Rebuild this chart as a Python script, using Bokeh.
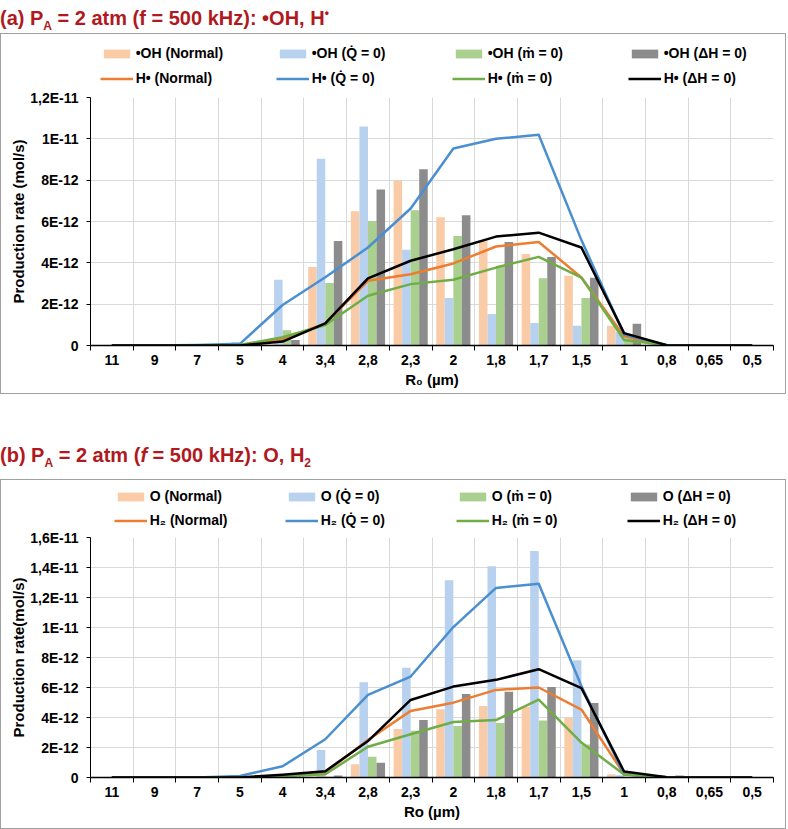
import numpy as np
from bokeh.plotting import figure
from bokeh.models import ColumnDataSource, Range1d, FixedTicker, Legend, LegendItem, Div
from bokeh.transform import dodge
from bokeh.layouts import column
from bokeh.embed import file_html
from bokeh.resources import INLINE

# ---------------- data (production rates in units of 1E-12 mol/s) ----------------
categories = ["11", "9", "7", "5", "4", "3,4", "2,8", "2,3", "2", "1,8", "1,7", "1,5", "1", "0,8", "0,65", "0,5"]

# panel (a): •OH bars
oh_normal = [0, 0, 0, 0, 0.05, 3.8, 6.5, 8.0, 6.2, 5.05, 4.43, 3.37, 0.96, 0.02, 0, 0]
oh_q0 = [0, 0, 0.03, 0.16, 3.18, 9.04, 10.6, 4.63, 2.3, 1.53, 1.09, 0.96, 0.64, 0.02, 0, 0]
oh_m0 = [0, 0, 0, 0.02, 0.74, 3.02, 6.02, 6.55, 5.3, 3.86, 3.25, 2.3, 0.4, 0.02, 0, 0]
oh_dh0 = [0, 0, 0, 0, 0.27, 5.06, 7.55, 8.53, 6.3, 5.01, 4.28, 3.28, 1.05, 0.05, 0, 0]
# panel (a): H• lines
h_normal = [0, 0, 0, 0.02, 0.3, 1.07, 3.13, 3.45, 3.97, 4.79, 5.01, 3.29, 0.45, 0.01, 0, 0]
h_q0 = [0, 0, 0.02, 0.08, 1.96, 3.3, 4.74, 6.63, 9.53, 10.0, 10.2, 5.1, 0.53, 0.01, 0, 0]
h_m0 = [0, 0, 0, 0.02, 0.4, 0.99, 2.41, 2.97, 3.18, 3.77, 4.29, 3.29, 0.27, 0.01, 0, 0]
h_dh0 = [0, 0, 0, 0, 0.19, 1.07, 3.25, 4.1, 4.66, 5.27, 5.46, 4.74, 0.6, 0.01, 0, 0]

# panel (b): O bars
o_normal = [0, 0, 0, 0, 0, 0.05, 0.89, 3.23, 4.55, 4.77, 4.7, 4.0, 0.22, 0.02, 0, 0]
o_q0 = [0, 0, 0, 0, 0.05, 1.84, 6.35, 7.31, 13.15, 14.09, 15.1, 7.82, 0.15, 0.02, 0, 0]
o_m0 = [0, 0, 0, 0, 0, 0.05, 1.38, 3.12, 3.43, 3.63, 3.8, 2.2, 0.05, 0, 0, 0]
o_dh0 = [0, 0, 0, 0, 0, 0.13, 0.98, 3.83, 5.57, 5.71, 6.03, 4.96, 0.05, 0.13, 0, 0]
# panel (b): H2 lines
h2_normal = [0, 0, 0, 0, 0.1, 0.33, 2.5, 4.44, 4.99, 5.84, 6.0, 4.53, 0.22, 0.02, 0, 0]
h2_q0 = [0, 0, 0, 0.1, 0.75, 2.55, 5.51, 6.73, 10.03, 12.64, 12.91, 6.1, 0.2, 0.02, 0, 0]
h2_m0 = [0, 0, 0, 0, 0.08, 0.22, 2.05, 2.88, 3.7, 3.83, 5.19, 2.33, 0.2, 0.02, 0, 0]
h2_dh0 = [0, 0, 0, 0, 0.18, 0.42, 2.43, 5.17, 6.06, 6.51, 7.22, 5.96, 0.4, 0.02, 0, 0]

ticks_a = [0, 2, 4, 6, 8, 10, 12]
tick_labels_a = ["0", "2E-12", "4E-12", "6E-12", "8E-12", "1E-11", "1,2E-11"]
ticks_b = [0, 2, 4, 6, 8, 10, 12, 14, 16]
tick_labels_b = ["0", "2E-12", "4E-12", "6E-12", "8E-12", "1E-11", "1,2E-11", "1,4E-11", "1,6E-11"]

bar_names_a = ["•OH (Normal)", "•OH (Q\u0307 = 0)", "•OH (\u1e41 = 0)", "•OH (ΔH = 0)"]
line_names_a = ["H• (Normal)", "H• (Q\u0307 = 0)", "H• (\u1e41 = 0)", "H• (ΔH = 0)"]
bar_names_b = ["O (Normal)", "O (Q\u0307 = 0)", "O (\u1e41 = 0)", "O (ΔH = 0)"]
line_names_b = ["H₂ (Normal)", "H₂ (Q\u0307 = 0)", "H₂ (\u1e41 = 0)", "H₂ (ΔH = 0)"]

BAR_COLORS = ["#F9CBA7", "#B8D1EE", "#A9D08E", "#8C8C8C"]
LINE_COLORS = ["#ED7D31", "#4A8FD0", "#70AD47", "#000000"]
FONT = "Liberation Sans"
FIG_W = 784


def make_source(bars, lines):
    data = {"x": list(range(len(categories)))}
    for i, s in enumerate(bars):
        data["b%d" % i] = s
    for i, s in enumerate(lines):
        data["l%d" % i] = s
    return ColumnDataSource(data)


def legend_figure(src, bar_names, line_names, h, leg_lw, leg_x, leg_y, leg_sp):
    # a strip holding only the legend; its keys use the same series (hidden here)
    q = figure(width=FIG_W, height=h, x_range=Range1d(0, 1), y_range=Range1d(0, 1),
               output_backend="svg", toolbar_location=None,
               x_axis_location=None, y_axis_location=None,
               min_border_left=0, min_border_right=0, min_border_top=0, min_border_bottom=0)
    q.margin = (0, 0, 0, 0)
    q.grid.visible = False
    q.outline_line_color = None
    q.border_fill_color = "white"
    items = []
    for i in range(4):
        r = q.vbar(x="x", top="b%d" % i, width=0.2, source=src,
                   fill_color=BAR_COLORS[i], line_color=None, visible=False)
        items.append(LegendItem(label=bar_names[i], renderers=[r]))
    for i in range(4):
        r = q.line(x="x", y="l%d" % i, source=src, line_color=LINE_COLORS[i],
                   line_width=2.5, visible=False)
        items.append(LegendItem(label=line_names[i], renderers=[r]))
    legend = Legend(items=items, orientation="horizontal", ncols=4,
                    location=(leg_x, leg_y), glyph_width=33, glyph_height=11,
                    label_standoff=3, label_width=leg_lw, label_height=18,
                    spacing=leg_sp, padding=0, margin=0, border_line_color=None,
                    background_fill_alpha=0, label_text_font=FONT,
                    label_text_font_size="14px", label_text_font_style="bold",
                    label_text_color="black")
    q.add_layout(legend, "center")
    return q


def build(src, yt, ytl, x_title, y_title, h, b_top, b_bottom):
    n = len(categories)
    p = figure(width=FIG_W, height=h, x_range=Range1d(-0.5, n - 0.5),
               y_range=Range1d(yt[0], yt[-1]), output_backend="svg",
               toolbar_location=None, min_border_left=89, min_border_right=12,
               min_border_top=b_top, min_border_bottom=b_bottom)
    p.margin = (0, 0, 0, 0)
    p.outline_line_color = None
    p.background_fill_color = "white"
    p.border_fill_color = "white"

    for i, off in enumerate([-0.3, -0.1, 0.1, 0.3]):
        p.vbar(x=dodge("x", off, range=p.x_range), top="b%d" % i, width=0.2,
               source=src, fill_color=BAR_COLORS[i], line_color=None)
    for i in range(4):
        p.line(x="x", y="l%d" % i, source=src, line_color=LINE_COLORS[i],
               line_width=2.5, line_join="round")

    xa = p.xaxis[0]
    xa.ticker = FixedTicker(ticks=list(range(n)), minor_ticks=[i - 0.5 for i in range(n + 1)])
    xa.major_label_overrides = {i: c for i, c in enumerate(categories)}
    xa.major_tick_line_color = None
    xa.major_tick_out = 5
    xa.major_tick_in = 0
    xa.minor_tick_line_color = "black"
    xa.minor_tick_out = 5
    xa.minor_tick_in = 0
    xa.axis_line_color = "black"
    xa.axis_line_width = 1.5
    xa.major_label_text_font = FONT
    xa.major_label_text_font_size = "14px"
    xa.major_label_text_font_style = "bold"
    xa.major_label_text_color = "black"
    xa.major_label_standoff = 4
    xa.axis_label = x_title
    xa.axis_label_text_font = FONT
    xa.axis_label_text_font_size = "15px"
    xa.axis_label_text_font_style = "bold"
    xa.axis_label_text_color = "black"
    xa.axis_label_standoff = 3

    ya = p.yaxis[0]
    ya.ticker = FixedTicker(ticks=yt, minor_ticks=[])
    ya.major_label_overrides = {t: l for t, l in zip(yt, ytl)}
    ya.major_tick_out = 4
    ya.major_tick_in = 0
    ya.major_tick_line_color = "black"
    ya.axis_line_color = "black"
    ya.major_label_text_font = FONT
    ya.major_label_text_font_size = "14px"
    ya.major_label_text_font_style = "bold"
    ya.major_label_text_color = "black"
    ya.major_label_standoff = 8
    ya.axis_label = y_title
    ya.axis_label_text_font = FONT
    ya.axis_label_text_font_size = "15px"
    ya.axis_label_text_font_style = "bold"
    ya.axis_label_text_color = "black"
    ya.axis_label_standoff = 0

    p.xgrid.ticker = FixedTicker(ticks=[i - 0.5 for i in range(n + 1)])
    p.xgrid.grid_line_color = "#D9D9D9"
    p.ygrid.ticker = FixedTicker(ticks=yt)
    p.ygrid.grid_line_color = "#D9D9D9"
    return p


src_a = make_source([oh_normal, oh_q0, oh_m0, oh_dh0], [h_normal, h_q0, h_m0, h_dh0])
src_b = make_source([o_normal, o_q0, o_m0, o_dh0], [h2_normal, h2_q0, h2_m0, h2_dh0])

leg_a = legend_figure(src_a, bar_names_a, line_names_a, 53, 133, 9.7, 0, 7)
p_a = build(src_a, ticks_a, tick_labels_a, "R₀ (µm)", "Production rate (mol/s)", 306, 10, 48)
leg_b = legend_figure(src_b, bar_names_b, line_names_b, 49, 129, 23.7, 0, 6)
p_b = build(src_b, ticks_b, tick_labels_b, "Ro (µm)", "Production rate(mol/s)", 299, 8, 51)

BOX = {"border": "1px solid #A0A0A0"}
box_a = column(leg_a, p_a, spacing=0, styles=BOX)
box_b = column(leg_b, p_b, spacing=0, styles=BOX)

TSTYLE = ("font-family:'Liberation Sans',Arial,sans-serif;font-weight:bold;font-size:20px;"
          "color:#B0191E;white-space:nowrap;line-height:26px;")
div_a = Div(text='<div style="%s">(a) P<sub style="font-size:12px">A</sub> = 2 atm (f = 500 kHz): •OH, H<sup style="font-size:12px">•</sup></div>' % TSTYLE,
            width=786, height=33, margin=(0, 0, 0, 0))
div_b = Div(text='<div style="%spadding-top:48px">(b) P<sub style="font-size:12px">A</sub> = 2 atm (<i>f</i> = 500 kHz): O, H<sub style="font-size:12px">2</sub></div>' % TSTYLE,
            width=786, height=85, margin=(0, 0, 0, 0))

layout = column(div_a, box_a, div_b, box_b, spacing=0)

open("out.html", "w").write(file_html(layout, INLINE))
